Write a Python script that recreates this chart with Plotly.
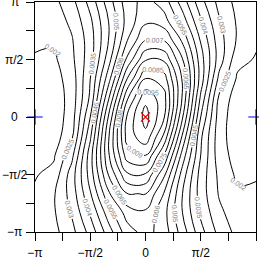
import math
import plotly.graph_objects as go

PI = math.pi

# grid positions in units of pi/6 (x = phi, y = psi)
grid_steps = [-6, -5, -4, -3, -2, -1, 0, 1, 2, 3, 4, 5, 6]

# density values (rows: psi from -pi to pi)
row_m6 = [0.0021867, 0.0023445, 0.0028360, 0.0036781, 0.0047702, 0.0057703, 0.0061867, 0.0057703, 0.0047702, 0.0036781, 0.0028360, 0.0023445, 0.0021867]
row_m5 = [0.0021547, 0.0024243, 0.0030577, 0.0040624, 0.0052685, 0.0062213, 0.0063973, 0.0056859, 0.0045080, 0.0033932, 0.0026163, 0.0022156, 0.0021547]
row_m4 = [0.0020697, 0.0024280, 0.0032136, 0.0044517, 0.0059143, 0.0069839, 0.0070104, 0.0059758, 0.0045149, 0.0032592, 0.0024532, 0.0020775, 0.0020697]
row_m3 = [0.0019600, 0.0021500, 0.0032488, 0.0047227, 0.0065422, 0.0079137, 0.0079438, 0.0066101, 0.0047898, 0.0032949, 0.0023786, 0.0019000, 0.0019600]
row_m2 = [0.0017300, 0.0019200, 0.0028500, 0.0047745, 0.0069406, 0.0087539, 0.0090015, 0.0074903, 0.0052983, 0.0034956, 0.0022200, 0.0018000, 0.0017300]
row_m1 = [0.0015700, 0.0017200, 0.0024000, 0.0044000, 0.0069511, 0.0092002, 0.0098640, 0.0084083, 0.0059477, 0.0036000, 0.0022000, 0.0017000, 0.0015700]
row_0 = [0.0015000, 0.0016800, 0.0022500, 0.0040000, 0.0065691, 0.0090657, 0.0102000, 0.0090657, 0.0065691, 0.0040000, 0.0022500, 0.0016800, 0.0015000]
row_p1 = [0.0015700, 0.0017000, 0.0022000, 0.0036000, 0.0059477, 0.0084083, 0.0098640, 0.0092002, 0.0069511, 0.0044000, 0.0024000, 0.0017200, 0.0015700]
row_p2 = [0.0017300, 0.0018000, 0.0022200, 0.0034956, 0.0052983, 0.0074903, 0.0090015, 0.0087539, 0.0069406, 0.0047745, 0.0028500, 0.0019200, 0.0017300]
row_p3 = [0.0019600, 0.0019000, 0.0023786, 0.0032949, 0.0047898, 0.0066101, 0.0079438, 0.0079137, 0.0065422, 0.0047227, 0.0032488, 0.0021500, 0.0019600]
row_p4 = [0.0020697, 0.0020775, 0.0024532, 0.0032592, 0.0045149, 0.0059758, 0.0070104, 0.0069839, 0.0059143, 0.0044517, 0.0032136, 0.0024280, 0.0020697]
row_p5 = [0.0021547, 0.0022156, 0.0026163, 0.0033932, 0.0045080, 0.0056859, 0.0063973, 0.0062213, 0.0052685, 0.0040624, 0.0030577, 0.0024243, 0.0021547]
row_p6 = [0.0021867, 0.0023445, 0.0028360, 0.0036781, 0.0047702, 0.0057703, 0.0061867, 0.0057703, 0.0047702, 0.0036781, 0.0028360, 0.0023445, 0.0021867]

density_rows = [row_m6, row_m5, row_m4, row_m3, row_m2, row_m1, row_0,
                row_p1, row_p2, row_p3, row_p4, row_p5, row_p6]

level_start = 0.002
level_end = 0.010
level_step = 0.0005

# marked points (multiples of pi)
mean_point_x = [0.0]
mean_point_y = [0.0]
anti_point_x = [-1.0, 1.0]
anti_point_y = [0.0, 0.0]

# axis ticks (multiples of pi/4)
tick_quarters = [-4, -3, -2, -1, 0, 1, 2, 3, 4]
tick_text = ["\u2212\u03c0", "", "\u2212\u03c0/2", "", "0", "", "\u03c0/2", "", "\u03c0"]

xs = [s * PI / 6 for s in grid_steps]
ys = [s * PI / 6 for s in grid_steps]
tickvals = [q * PI / 4 for q in tick_quarters]

FONT = "Liberation Sans, Arial, sans-serif"

fig = go.Figure()
fig.add_trace(go.Contour(
    x=xs, y=ys, z=density_rows,
    contours=dict(start=level_start, end=level_end, size=level_step,
                  coloring="lines", showlabels=True,
                  labelfont=dict(size=7, color="#808080", family=FONT),
                  labelformat=".2~g"),
    colorscale=[[0, "black"], [1, "black"]],
    showscale=False,
    line=dict(width=1, smoothing=1.3),
    hoverinfo="skip",
))
fig.add_trace(go.Scatter(
    x=[v * PI for v in mean_point_x], y=[v * PI for v in mean_point_y],
    mode="markers",
    marker=dict(symbol="x-thin", size=9, line=dict(color="red", width=1.2), color="red"),
    cliponaxis=False, showlegend=False,
))
fig.add_trace(go.Scatter(
    x=[v * PI for v in anti_point_x], y=[v * PI for v in anti_point_y],
    mode="markers",
    marker=dict(symbol="cross-thin", size=11, line=dict(color="blue", width=1.2), color="blue"),
    cliponaxis=False, showlegend=False,
))

axis_common = dict(
    range=[-PI, PI], tickmode="array", tickvals=tickvals,
    showgrid=False, zeroline=False, showline=True, linecolor="black", linewidth=1,
    mirror=True, ticks="outside", ticklen=8, tickwidth=1, tickcolor="black",
    automargin=False,
    tickfont=dict(size=12, color="black", family=FONT),
)
fig.update_xaxes(**axis_common, ticktext=tick_text, ticklabelstandoff=2)
fig.update_yaxes(**axis_common, showticklabels=False)

# y tick labels centred left of the axis (as in the reference)
for val, txt in zip(tickvals, tick_text):
    if txt:
        fig.add_annotation(x=-0.0905, xref="paper", y=val, yref="y", text=txt,
                           showarrow=False, xanchor="center", yanchor="middle",
                           font=dict(size=12, color="black", family=FONT))

fig.update_layout(
    width=259, height=259,
    margin=dict(l=35, r=3, t=2, b=27),
    paper_bgcolor="white", plot_bgcolor="white",
    showlegend=False,
)

fig.write_html("out.html", config={"displayModeBar": False},
               post_script="document.body.style.margin='0';document.body.style.overflow='hidden';")
